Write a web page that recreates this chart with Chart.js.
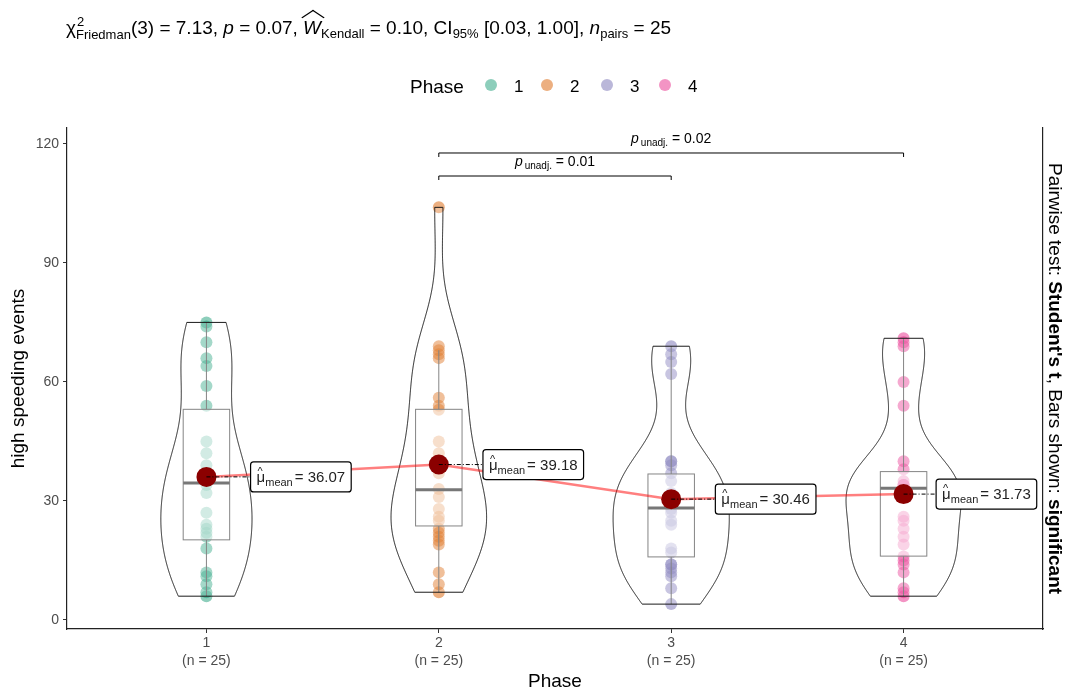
<!DOCTYPE html>
<html>
<head>
<meta charset="utf-8">
<script src="https://cdn.jsdelivr.net/npm/chart.js"></script>
<style>
  body { margin: 0; background: #fff; }
  #wrap { position: relative; width: 1068px; height: 693px; font-family: "Liberation Sans", Arial, sans-serif; }
  #chart { position: absolute; left: 0; top: 0; }
  #title { position: absolute; left: 66px; top: 17px; font-size: 19px; line-height: 22px; color: #000; white-space: nowrap; }
  #title sub { font-size: 13px; vertical-align: -4px; line-height: 0; }
  .ss { display: inline-block; position: relative; font-size: 13px; line-height: 0; vertical-align: -5px; }
  .ss .sup { position: absolute; left: 1px; top: -13px; }
  .hat { position: relative; display: inline-block; }
  .hat::before { content: ''; position: absolute; left: 55%; top: -5px; width: 10px; height: 10px;
    border-left: 1px solid #000; border-top: 1px solid #000;
    transform: translateX(-50%) scaleX(1.5) rotate(45deg); }
  #legend { position: absolute; left: 0; top: 0; }
  #legend span { position: absolute; white-space: nowrap; line-height: 22px; }
  #caption { position: absolute; left: 1044px; top: 128px; height: 501px; width: 22px;
    writing-mode: vertical-rl; text-align: center; font-size: 19px; white-space: nowrap; color: #000; }
</style>
</head>
<body>
<div id="wrap">
  <canvas id="chart" width="1068" height="693"></canvas>
  <div id="title">χ<span class="ss"><span class="sup">2</span>Friedman</span>(3) = 7.13, <i>p</i> = 0.07, <span class="hat"><i>W</i></span><sub>Kendall</sub> = 0.10, CI<sub>95%</sub> [0.03, 1.00], <i>n</i><sub>pairs</sub> = 25</div>
  <div id="legend"></div>
  <div id="caption">Pairwise test: <b>Student's t</b>, Bars shown: <b>significant</b></div>
</div>
<script>
// values
const categories = ["1", "2", "3", "4"];
const counts = [25, 25, 25, 25];
const phase1 = [75, 74, 70, 66, 64, 59, 54, 45, 42, 39, 37, 35, 34, 32, 27, 24, 23, 22, 21, 18, 12, 11, 9, 7, 6];
const phase2 = [104, 69, 68, 67, 66, 56, 54, 53, 45, 42, 40, 37, 33, 31, 28, 26, 25, 23, 22, 21, 20, 19, 12, 9, 7];
const phase3 = [69, 67, 65, 62, 40, 40, 39, 37, 35, 32, 30, 30, 28, 27, 25, 24, 18, 17, 14, 14, 13, 12, 11, 8, 4];
const phase4 = [71, 70, 69, 60, 54, 40, 38, 35, 34, 34, 34, 34, 33, 26, 25, 23, 21, 19, 16, 15, 14, 12, 8, 7, 6];
const means = [36.07, 39.18, 30.46, 31.73];
const boxQ1 = [20.2, 23.7, 15.9, 16.1];
const boxMedian = [34.5, 32.8, 28.2, 33.2];
const boxQ3 = [53.1, 53.1, 36.8, 37.4];
const whiskerLow = [6, 7, 4, 6];
const whiskerHigh = [75, 68, 69, 71];
const yTicks = [0, 30, 60, 90, 120];
const pairs = [[2, 4], [2, 3]];
const pLabels = ["0.02", "0.01"];

const groups = [phase1, phase2, phase3, phase4];
const colors = ["27,158,119", "217,95,2", "117,112,179", "231,41,138"];
const FONT = '"Liberation Sans", Arial, sans-serif';
const bracketY = [117.7, 111.9];
const labelDx = [0.19, 0.19, 0.19, 0.14];

// legend: title, then key dot + label per phase
var legend = document.getElementById("legend");
var keyX = [491, 547, 607, 665];
var html = '<span style="left:410px;top:76px;font-size:19px">Phase</span>';
categories.forEach(function (c, i) {
  html += '<span style="left:' + (keyX[i] - 6) + 'px;top:79px;width:12px;height:12px;border-radius:50%;background:rgba(' + colors[i] + ',0.5)"></span>';
  html += '<span style="left:' + (keyX[i] + 23) + 'px;top:76px;font-size:17px">' + c + "</span>";
});
legend.innerHTML = html;

// violin densities (gaussian kernel, nrd0 bandwidth, trimmed)
function quant(s, p) {
  var h = (s.length - 1) * p, lo = Math.floor(h);
  return s[lo] + (h - lo) * (s[Math.min(lo + 1, s.length - 1)] - s[lo]);
}
function density(vals) {
  var s = vals.slice().sort(function (a, b) { return a - b; });
  var n = s.length, m = s.reduce(function (a, b) { return a + b; }, 0) / n;
  var sd = Math.sqrt(s.reduce(function (a, b) { return a + (b - m) * (b - m); }, 0) / (n - 1));
  var iqr = quant(s, 0.75) - quant(s, 0.25);
  var bw = 0.9 * Math.min(sd, iqr / 1.34) * Math.pow(n, -0.2);
  var out = [];
  for (var k = 0; k < 512; k++) {
    var y = s[0] + (s[n - 1] - s[0]) * k / 511, d = 0;
    for (var j = 0; j < n; j++) { var z = (y - s[j]) / bw; d += Math.exp(-0.5 * z * z); }
    out.push({ y: y, d: d / (n * bw * Math.sqrt(2 * Math.PI)) });
  }
  return out;
}
const dens = groups.map(density);
const dmax = Math.max.apply(null, dens.map(function (g) { return Math.max.apply(null, g.map(function (p) { return p.d; })); }));

function drawBoxesAndViolins(chart) {
  var ctx = chart.ctx, xs = chart.scales.x, ys = chart.scales.y;
  ctx.save();
  groups.forEach(function (g, i) {
    var c = i + 1;
    var xc = xs.getPixelForValue(c);
    // whiskers
    ctx.strokeStyle = "#666"; ctx.lineWidth = 1;
    ctx.beginPath();
    ctx.moveTo(xc, ys.getPixelForValue(whiskerLow[i])); ctx.lineTo(xc, ys.getPixelForValue(boxQ1[i]));
    ctx.moveTo(xc, ys.getPixelForValue(boxQ3[i])); ctx.lineTo(xc, ys.getPixelForValue(whiskerHigh[i]));
    ctx.stroke();
    // box
    var xl = xs.getPixelForValue(c - 0.1), xr = xs.getPixelForValue(c + 0.1);
    var yt = ys.getPixelForValue(boxQ3[i]), yb = ys.getPixelForValue(boxQ1[i]);
    ctx.fillStyle = "rgba(255,255,255,0.5)";
    ctx.fillRect(xl, yt, xr - xl, yb - yt);
    ctx.strokeRect(xl, yt, xr - xl, yb - yt);
    ctx.strokeStyle = "#555"; ctx.lineWidth = 3;
    ctx.beginPath();
    ctx.moveTo(xl, ys.getPixelForValue(boxMedian[i])); ctx.lineTo(xr, ys.getPixelForValue(boxMedian[i]));
    ctx.stroke();
    // violin
    var d = dens[i];
    ctx.beginPath();
    d.forEach(function (p, k) {
      var px = xs.getPixelForValue(c - 0.25 * p.d / dmax), py = ys.getPixelForValue(p.y);
      if (k === 0) ctx.moveTo(px, py); else ctx.lineTo(px, py);
    });
    for (var k = d.length - 1; k >= 0; k--) {
      ctx.lineTo(xs.getPixelForValue(c + 0.25 * d[k].d / dmax), ys.getPixelForValue(d[k].y));
    }
    ctx.closePath();
    ctx.fillStyle = "rgba(255,255,255,0.2)"; ctx.fill();
    ctx.strokeStyle = "#1a1a1a"; ctx.lineWidth = 1; ctx.stroke();
  });
  ctx.restore();
}

function drawLabels(chart) {
  var ctx = chart.ctx, xs = chart.scales.x, ys = chart.scales.y;
  ctx.save();
  means.forEach(function (m, i) {
    var xc = xs.getPixelForValue(i + 1), yc = ys.getPixelForValue(m);
    var lx = xs.getPixelForValue(i + 1 + labelDx[i]);
    var txt = "= " + m.toFixed(2);
    ctx.font = "15px " + FONT; var wMu = ctx.measureText("μ").width, wT = ctx.measureText(txt).width;
    ctx.font = "11px " + FONT; var wS = ctx.measureText("mean").width;
    var w = 6 + wMu + wS + 2 + wT + 6, h = 30;
    ctx.strokeStyle = "#000"; ctx.lineWidth = 1; ctx.setLineDash([4, 2, 1, 2]);
    ctx.beginPath(); ctx.moveTo(xc, yc); ctx.lineTo(lx, yc); ctx.stroke();
    ctx.setLineDash([]);
    ctx.beginPath(); ctx.roundRect(lx, yc - h / 2, w, h, 3);
    ctx.fillStyle = "#fff"; ctx.fill(); ctx.lineWidth = 1.2; ctx.stroke();
    ctx.fillStyle = "#222"; ctx.textBaseline = "alphabetic";
    ctx.font = "15px " + FONT; ctx.fillText("μ", lx + 6, yc + 5);
    ctx.font = "11px " + FONT; ctx.fillText("^", lx + 7, yc - 2);
    ctx.fillText("mean", lx + 6 + wMu, yc + 9);
    ctx.font = "15px " + FONT; ctx.fillText(txt, lx + 6 + wMu + wS + 2, yc + 5);
  });
  ctx.restore();
}

function drawBrackets(chart) {
  var ctx = chart.ctx, xs = chart.scales.x, ys = chart.scales.y;
  ctx.save();
  pairs.forEach(function (pr, i) {
    var x1 = xs.getPixelForValue(pr[0]), x2 = xs.getPixelForValue(pr[1]), y = ys.getPixelForValue(bracketY[i]);
    ctx.strokeStyle = "#000"; ctx.lineWidth = 1;
    ctx.beginPath();
    ctx.moveTo(x1, y + 4); ctx.lineTo(x1, y); ctx.lineTo(x2, y); ctx.lineTo(x2, y + 4);
    ctx.stroke();
    var rest = " = " + pLabels[i];
    ctx.font = "italic 14px " + FONT; var wp = ctx.measureText("p").width;
    ctx.font = "10px " + FONT; var ws = ctx.measureText("unadj.").width;
    ctx.font = "14px " + FONT; var wr = ctx.measureText(rest).width;
    var sx = (x1 + x2) / 2 - (wp + 2 + ws + wr) / 2, by = y - 10;
    ctx.fillStyle = "#000";
    ctx.font = "italic 14px " + FONT; ctx.fillText("p", sx, by);
    ctx.font = "10px " + FONT; ctx.fillText("unadj.", sx + wp + 2, by + 3);
    ctx.font = "14px " + FONT; ctx.fillText(rest, sx + wp + 2 + ws, by);
  });
  ctx.restore();
}

const overlay = {
  id: "overlay",
  beforeDatasetDraw: function (chart, args) { if (args.index === 4) drawBoxesAndViolins(chart); },
  afterDatasetsDraw: function (chart) { drawLabels(chart); drawBrackets(chart); }
};

var datasets = groups.map(function (g, i) {
  return {
    type: "scatter",
    label: categories[i],
    data: g.map(function (v) { return { x: i + 1, y: v }; }),
    backgroundColor: "rgba(" + colors[i] + ",0.5)",
    borderWidth: 0,
    pointRadius: 6,
    order: 3
  };
});
datasets.push({
  type: "line",
  label: "mean path",
  data: means.map(function (m, i) { return { x: i + 1, y: m }; }),
  borderColor: "rgba(255,0,0,0.5)",
  borderWidth: 2.5,
  pointRadius: 0,
  fill: false,
  order: 2
});
datasets.push({
  type: "scatter",
  label: "mean",
  data: means.map(function (m, i) { return { x: i + 1, y: m }; }),
  backgroundColor: "#8B0000",
  borderWidth: 0,
  pointRadius: 10,
  order: 1
});

var ctx = document.getElementById("chart").getContext("2d");
window.myChart = new Chart(ctx, {
  data: { datasets: datasets },
  plugins: [overlay],
  options: {
    responsive: false,
    animation: false,
    events: [],
    layout: { padding: { top: 128, right: 25, left: 0, bottom: 0 } },
    plugins: { legend: { display: false }, tooltip: { enabled: false } },
    scales: {
      x: {
        type: "linear",
        min: 0.4,
        max: 4.6,
        afterBuildTicks: function (scale) { scale.ticks = categories.map(function (c, i) { return { value: i + 1 }; }); },
        afterFit: function (scale) { scale.height = 64; },
        grid: { drawOnChartArea: false, drawTicks: true, tickLength: 4, tickColor: "#333" },
        border: { display: true, color: "#222", width: 1.2 },
        ticks: {
          padding: 1,
          color: "#4D4D4D",
          font: { family: FONT, size: 14, lineHeight: 1.3 },
          maxRotation: 0,
          callback: function (v) {
            var i = Math.round(v) - 1;
            return [categories[i], "(n = " + counts[i] + ")"];
          }
        },
        title: { display: true, text: "Phase", color: "#000", font: { family: FONT, size: 19 }, padding: { top: 0, bottom: 0 } }
      },
      y: {
        type: "linear",
        min: -2.27,
        max: 124,
        afterBuildTicks: function (scale) { scale.ticks = yTicks.map(function (v) { return { value: v }; }); },
        afterFit: function (scale) { scale.width = 67; },
        grid: { drawOnChartArea: false, drawTicks: true, tickLength: 4, tickColor: "#333" },
        border: { display: true, color: "#222", width: 1.2 },
        ticks: { padding: 4, color: "#4D4D4D", font: { family: FONT, size: 14 } },
        title: { display: true, text: "high speeding events", color: "#000", font: { family: FONT, size: 19 }, padding: { top: 7, bottom: 0 } }
      },
      y2: {
        type: "linear",
        position: "right",
        min: -2.27,
        max: 124,
        afterFit: function (scale) { scale.width = 0; },
        grid: { display: false, drawTicks: false },
        border: { display: true, color: "#222", width: 1.2 },
        ticks: { display: false }
      }
    }
  }
});
</script>
</body>
</html>
